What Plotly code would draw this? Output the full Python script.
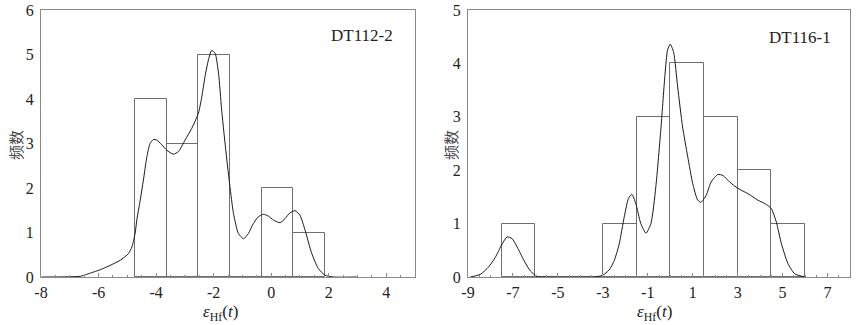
import plotly.graph_objects as go

# ---------------- data ----------------
# Panel 1: DT112-2
bins1_edges = [-4.73, -3.63, -2.53, -1.43, -0.33, 0.77, 1.87]
bins1_counts = [4, 3, 5, 0, 2, 1]
curve1_x = [-7.97, -6.64, -6.41, -5.94, -5.60, -5.25, -4.96, -4.84, -4.73, -4.67, -4.55,
            -4.44, -4.32, -4.21, -4.09, -3.98, -3.80, -3.63, -3.40, -3.22, -2.99, -2.76,
            -2.53, -2.41, -2.30, -2.18, -2.07, -1.95, -1.83, -1.72, -1.54, -1.31, -1.14,
            -0.96, -0.79, -0.62, -0.45, -0.27, -0.10, 0.08, 0.31, 0.48, 0.65, 0.83, 1.00,
            1.18, 1.41, 1.64, 1.87, 2.16, 2.97]
curve1_y = [0, 0.015, 0.06, 0.165, 0.26, 0.375, 0.525, 0.675, 0.975, 1.28, 1.73,
            2.18, 2.70, 3.00, 3.09, 3.08, 2.97, 2.85, 2.76, 2.82, 3.08, 3.34,
            3.68, 4.05, 4.50, 4.88, 5.09, 5.03, 4.58, 3.75, 2.63, 1.43, 0.98,
            0.86, 0.98, 1.20, 1.35, 1.41, 1.37, 1.28, 1.22, 1.31, 1.44, 1.49, 1.39,
            1.05, 0.53, 0.19, 0.04, 0.0, 0.0]
ticks1_x = [-8, -6, -4, -2, 0, 2, 4]
ticks1_y = [0, 1, 2, 3, 4, 5, 6]
label1 = "DT112-2"

# Panel 2: DT116-1
bins2_edges = [-7.5, -6.0, -4.5, -3.0, -1.5, 0.0, 1.5, 3.0, 4.5, 6.0]
bins2_counts = [1, 0, 0, 1, 3, 4, 3, 2, 1]
curve2_x = [-8.9, -8.45, -8.08, -7.78, -7.48, -7.26, -7.04, -6.81, -6.51, -6.22, -5.92,
            -5.62, -3.39, -3.02, -2.72, -2.49, -2.27, -2.05, -1.86, -1.71, -1.53, -1.31,
            -1.08, -0.86, -0.64, -0.41, -0.23, -0.12, 0.0, 0.15, 0.33, 0.55, 0.78, 1.0,
            1.22, 1.37, 1.60, 1.82, 2.12, 2.35, 2.64, 3.01, 3.46, 3.90, 4.27, 4.50, 4.72,
            4.95, 5.24, 5.54, 5.99]
curve2_y = [0, 0.05, 0.19, 0.37, 0.62, 0.75, 0.72, 0.56, 0.31, 0.11, 0.01,
            0, 0, 0.03, 0.13, 0.31, 0.62, 1.12, 1.47, 1.55, 1.37, 1.0,
            0.82, 1.0, 1.69, 2.81, 3.81, 4.25, 4.36, 4.21, 3.56, 2.81, 2.25, 1.75,
            1.44, 1.40, 1.53, 1.78, 1.92, 1.90, 1.78, 1.66, 1.56, 1.44, 1.36, 1.28, 1.03,
            0.62, 0.25, 0.06, 0.0]
ticks2_x = [-9, -7, -5, -3, -1, 1, 3, 5, 7]
ticks2_y = [0, 1, 2, 3, 4, 5]
label2 = "DT116-1"

y_title = "频数"
x_title = "<i>ε</i><sub>Hf</sub>(<i>t</i>)"

# ---------------- figure ----------------
W, H = 857, 325
SERIF = "Liberation Serif"
FRAME = "#8a8a8a"
BARLINE = "#6e6e6e"
TXT = "#222222"

fig = go.Figure()


def add_panel(edges, counts, cx, cy, xa, ya):
    centers = [(edges[i] + edges[i + 1]) / 2 for i in range(len(counts))]
    widths = [edges[i + 1] - edges[i] for i in range(len(counts))]
    fig.add_trace(go.Bar(x=centers, y=counts, width=widths, xaxis=xa, yaxis=ya,
                         marker=dict(color="rgba(0,0,0,0)", line=dict(color=BARLINE, width=1)),
                         showlegend=False, hoverinfo="skip"))
    fig.add_trace(go.Scatter(x=cx, y=cy, mode="lines", xaxis=xa, yaxis=ya,
                             line=dict(color="#1a1a1a", width=1, shape="spline", smoothing=0.6),
                             showlegend=False, hoverinfo="skip"))


add_panel(bins1_edges, bins1_counts, curve1_x, curve1_y, "x", "y")
add_panel(bins2_edges, bins2_counts, curve2_x, curve2_y, "x2", "y2")

ydom = [1 - 277 / H, 1 - 10 / H]


def xaxis(dom, rng, ticks, anchor):
    return dict(domain=dom, range=rng, anchor=anchor, showgrid=False, zeroline=False,
                automargin=False,
                showline=True, mirror=True, linecolor=FRAME, linewidth=1,
                tickvals=ticks, ticktext=[str(t) for t in ticks],
                ticks="inside", ticklen=4, tickcolor=FRAME,
                minor=dict(dtick=0.5, ticks="inside", ticklen=2.5, tickcolor=FRAME),
                tickfont=dict(family=SERIF, size=16, color=TXT), ticklabelstandoff=1)


def yaxis(rng, ticks, anchor):
    return dict(domain=ydom, range=rng, anchor=anchor, showgrid=False, zeroline=False,
                automargin=False,
                showline=True, mirror=True, linecolor=FRAME, linewidth=1,
                tickvals=ticks, ticktext=[str(t) for t in ticks], ticks="",
                tickfont=dict(family=SERIF, size=16, color=TXT), ticklabelstandoff=3)


fig.update_layout(
    width=W, height=H, margin=dict(l=0, r=0, t=0, b=0, autoexpand=False),
    paper_bgcolor="white", plot_bgcolor="white", barmode="overlay", bargap=0,
    xaxis=xaxis([41 / W, 415 / W], [-8, 5], ticks1_x, "y"),
    yaxis=yaxis([0, 6], ticks1_y, "x"),
    xaxis2=xaxis([468 / W, 850 / W], [-9, 8], ticks2_x, "y2"),
    yaxis2=yaxis([0, 5], ticks2_y, "x2"),
)

ann = []
ann.append(dict(text=label1, x=362 / W, y=1 - 35 / H, xref="paper", yref="paper",
                xanchor="center", yanchor="middle",
                showarrow=False, font=dict(family=SERIF, size=17, color=TXT)))
ann.append(dict(text=label2, x=800 / W, y=1 - 38 / H, xref="paper", yref="paper",
                xanchor="center", yanchor="middle",
                showarrow=False, font=dict(family=SERIF, size=17, color=TXT)))
for xc in (15, 450):
    ann.append(dict(text=y_title, x=xc / W, y=1 - 145 / H, xref="paper", yref="paper",
                    xanchor="center", yanchor="middle",
                    textangle=-90, showarrow=False,
                    font=dict(family="Noto Sans CJK SC", size=15, color="#444")))
for xc in (220, 654):
    ann.append(dict(text=x_title, x=xc / W, y=1 - 313 / H, xref="paper", yref="paper",
                    xanchor="center", yanchor="middle",
                    showarrow=False, font=dict(family=SERIF, size=17, color=TXT)))
fig.update_layout(annotations=ann)

fig.write_html("out.html", config={"displayModeBar": False},
               post_script="document.body.style.margin='0';document.body.style.overflow='hidden';")
